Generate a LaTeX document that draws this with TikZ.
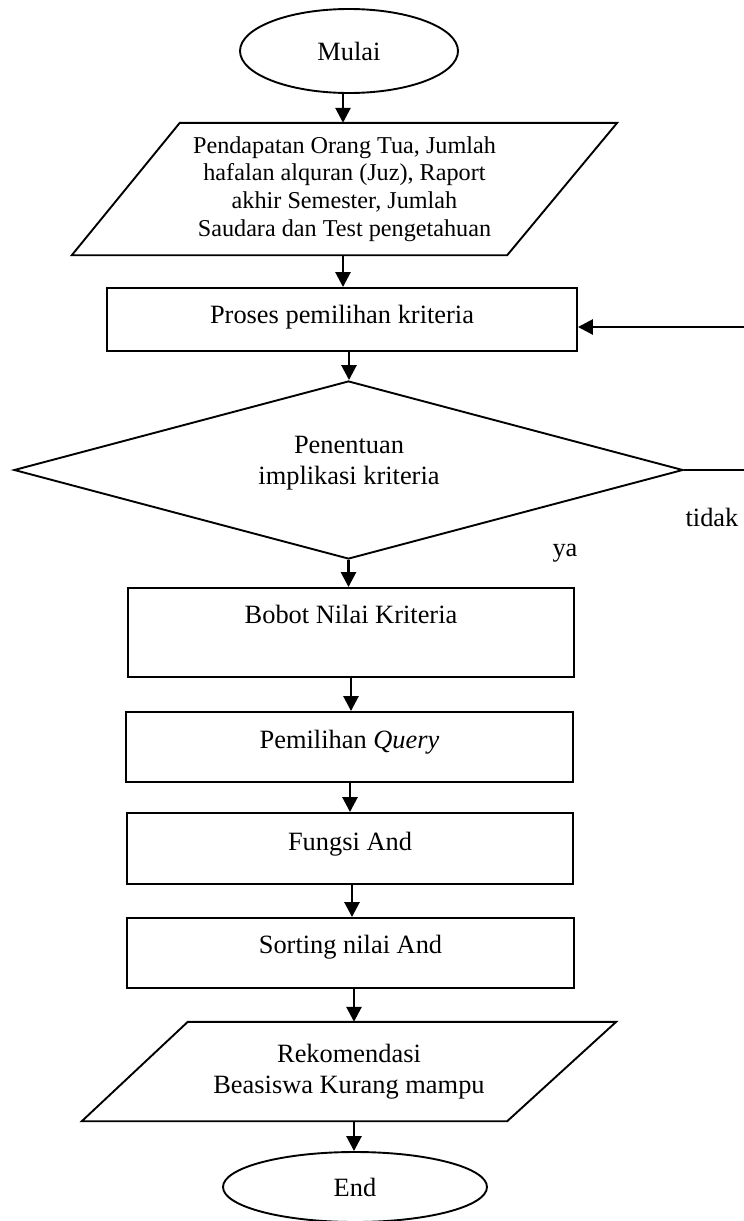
\documentclass[tikz,border=0pt]{standalone}
\usepackage{fontspec}
\setmainfont{Liberation Serif}
\usetikzlibrary{shapes.geometric,arrows.meta}

% type sizes used in the chart
\newcommand{\flowfont}{\fontsize{26.4}{30.4}\selectfont}
\newcommand{\smallflowfont}{\fontsize{24.2}{27.6}\selectfont}

\begin{document}
\begin{tikzpicture}[x=1pt,y=-1pt,
  outline/.style={line width=1.9pt},
  terminal/.style={outline,draw,ellipse,inner sep=0pt,font=\flowfont},
  process/.style={outline,draw,rectangle,inner xsep=0pt,inner ysep=0pt,font=\flowfont},
  frame/.style={rectangle,inner sep=0pt,align=center},
  decision/.style={outline,draw,diamond,inner sep=0pt},
  flowtext/.style={font=\flowfont,align=center,inner sep=0pt},
  arr/.style={line width=2.7pt,-{Triangle[length=15pt,width=15pt]}},
  link/.style={line width=1.9pt}
]
\useasboundingbox (0,0) rectangle (744,1221);

% start
\node[terminal,minimum width=218pt,minimum height=84pt] (mulai) at (349,51) {Mulai};

% input data
\node[frame,minimum width=545pt,minimum height=132pt,font=\smallflowfont] (input) at (344.5,189)
  {Pendapatan Orang Tua, Jumlah\\hafalan alquran (Juz), Raport\\akhir Semester, Jumlah\\Saudara dan Test pengetahuan};
\draw[outline] (input.south west) -- ([xshift=108pt]input.north west) -- (input.north east)
  -- ([xshift=-110pt]input.south east) -- cycle;

% criteria selection
\node[process,minimum width=470pt,text height=35pt,text depth=28pt] (proses) at (342,319.5)
  {Proses pemilihan kriteria};

% decision
\node[decision,minimum width=669pt,minimum height=178pt] (dec) at (348.5,470) {};
\node[flowtext] (dectext) at (349,463) {Penentuan\\implikasi kriteria};

% processing steps
\node[process,minimum width=446pt,text height=35pt,text depth=54pt] (bobot) at (351,632.5)
  {Bobot Nilai Kriteria};
\node[process,minimum width=447pt,text height=36pt,text depth=34pt] (query) at (349.5,747)
  {Pemilihan \textit{Query}};
\node[process,minimum width=446pt,text height=37pt,text depth=34pt] (fungsi) at (350,848.5)
  {Fungsi And};
\node[process,minimum width=447pt,text height=35pt,text depth=35pt] (sorting) at (350.5,953)
  {Sorting nilai And};

% output
\node[frame,minimum width=534pt,minimum height=99pt,font=\flowfont] (output) at (349,1071.5)
  {Rekomendasi\\Beasiswa Kurang mampu};
\draw[outline] (output.south west) -- ([xshift=106pt]output.north west) -- (output.north east)
  -- ([xshift=-109pt]output.south east) -- cycle;

% end
\node[terminal,minimum width=264pt,minimum height=70pt] (end) at (355,1187) {End};

% main flow
\draw[arr] ([xshift=-6pt]mulai.south) -- ([xshift=-6pt]mulai.south |- input.north);
\draw[arr] ([xshift=-1.5pt]input.south) -- ([xshift=-1.5pt]input.south |- proses.north);
\draw[arr] ([xshift=7pt]proses.south) -- ([xshift=7pt]proses.south |- dec.north);
\draw[arr] (dec.south) -- (dec.south |- bobot.north);
\draw[arr] (bobot.south) -- (bobot.south |- query.north);
\draw[arr] ([xshift=0.5pt]query.south) -- ([xshift=0.5pt]query.south |- fungsi.north);
\draw[arr] ([xshift=2pt]fungsi.south) -- ([xshift=2pt]fungsi.south |- sorting.north);
\draw[arr] ([xshift=3.5pt]sorting.south) -- ([xshift=3.5pt]sorting.south |- output.north);
\draw[arr] ([xshift=5pt]output.south) -- ([xshift=5pt]output.south |- end.north);

% loop back when the criteria are not met
\coordinate (loopout) at (744,470);
\coordinate (loopin) at (744,327);
\draw[link] (dec.east) -- (loopout);
\draw[arr] (loopin) -- (loopin -| proses.east);

% branch labels
\node[flowtext,anchor=base] (tidak) at (712,526) {tidak};
\node[flowtext,anchor=base] (ya) at (565,556) {ya};
\end{tikzpicture}
\end{document}
